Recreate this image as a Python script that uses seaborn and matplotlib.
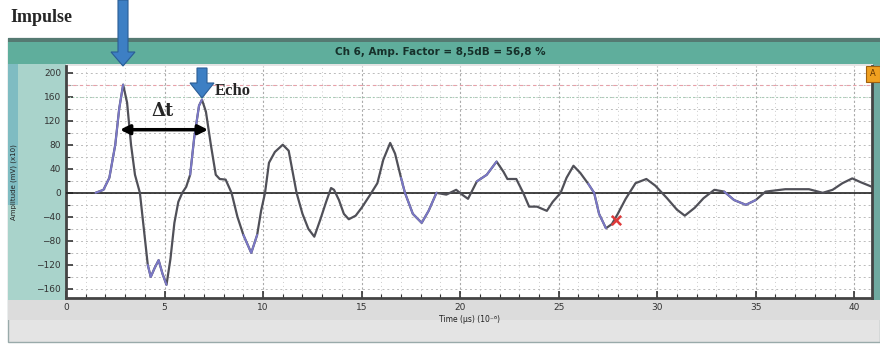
import numpy as np
import pandas as pd
import seaborn as sns
import matplotlib.pyplot as plt
from matplotlib.patches import Rectangle, FancyArrow
from matplotlib.ticker import MultipleLocator

# signal
time_us = [1.5, 1.9, 2.2, 2.5, 2.7, 2.9, 3.1, 3.3, 3.5, 3.75, 3.95, 4.15, 4.3, 4.5, 4.7, 4.9,
           5.1, 5.3, 5.5, 5.7, 5.9, 6.1, 6.3, 6.5, 6.75, 6.9, 7.1, 7.35, 7.6, 7.8, 8.1, 8.4,
           8.7, 9.0, 9.4, 9.7, 9.9, 10.1, 10.3, 10.6, 11.0, 11.3, 11.5, 11.7, 12.0, 12.3,
           12.6, 12.9, 13.2, 13.45, 13.6, 13.85, 14.1, 14.35, 14.7, 15.0, 15.4, 15.8, 16.1,
           16.45, 16.7, 17.0, 17.2, 17.6, 18.05, 18.4, 18.8, 19.3, 19.8, 20.1, 20.4, 20.85,
           21.35, 21.85, 22.2, 22.4, 22.85, 23.2, 23.5, 23.9, 24.4, 24.7, 25.1, 25.4, 25.75,
           26.1, 26.5, 26.8, 27.05, 27.4, 27.7, 28.0, 28.4, 28.9, 29.45, 29.9, 30.5, 31.0,
           31.4, 31.9, 32.35, 32.9, 33.4, 33.9, 34.5, 35.0, 35.5, 36.5, 37.7, 38.4, 38.9,
           39.4, 39.9, 40.3, 40.9]
amplitude = [0, 5, 25, 80, 140, 180, 150, 80, 30, 0, -60, -120, -140, -125, -112, -135,
             -153, -110, -50, -15, 0, 10, 30, 90, 145, 155, 135, 80, 30, 23, 22, 0,
             -40, -70, -100, -70, -30, 0, 50, 68, 80, 70, 35, 0, -35, -60,
             -73, -45, -15, 8, 5, -12, -35, -44, -38, -25, -5, 16, 55,
             83, 65, 25, 0, -35, -50, -30, 0, -3, 5, -3, -10, 19,
             30, 52, 35, 23, 23, 0, -23, -23, -30, -15, 0, 25, 45,
             33, 15, 0, -35, -59, -52, -35, -10, 16, 23, 12, -9, -28,
             -38, -25, -9, 5, 2, -12, -20, -12, 2, 6, 6, 0, 5,
             16, 24, 18, 10]
# stretches drawn in blue/purple in the original
blue_spans = [(1.5, 3.0), (4.0, 5.2), (6.2, 6.9), (9.0, 9.8), (17.0, 18.8), (20.8, 21.9),
              (26.5, 27.4), (33.4, 35.2)]
marker_t, marker_a = [27.9], [-45]
y_ticks = [200, 160, 120, 80, 40, 0, -40, -80, -120, -160]
x_ticks = [0, 5, 10, 15, 20, 25, 30, 35, 40]

title = "Ch 6, Amp. Factor = 8,5dB = 56,8 %"

sns.set_style("white")
W, H = 880, 344
fig = plt.figure(figsize=(W / 100, H / 100), dpi=100)
fig.patch.set_facecolor("white")


def box(x0, y0, x1, y1):
    # pixel box (top-left origin) -> figure fractions
    return x0 / W, 1 - y1 / H, (x1 - x0) / W, (y1 - y0) / H


def panel(x0, y0, x1, y1, z=-5, **kw):
    b = box(x0, y0, x1, y1)
    fig.add_artist(Rectangle(b[:2], b[2], b[3], transform=fig.transFigure, zorder=z, **kw))


# window frame pieces (behind the axes)
panel(8, 38, 880, 342, fc="#e4e4e4", ec="#9aa", lw=1)
panel(8, 38, 880, 64, fc="#5fae9c", ec="none")
panel(8, 38, 880, 42, fc="#557a72", ec="none")
panel(8, 64, 66, 300, fc="#a9d3cb", ec="none")
panel(8, 64, 18, 205, fc="#7fbcc2", ec="none")
panel(873, 64, 880, 300, fc="#6fa9a0", ec="none")
panel(8, 300, 880, 320, fc="#dcdcdc", ec="none")
fig.text(440 / W, 1 - 52 / H, title, ha="center", va="center", fontsize=7.5,
         fontweight="bold", color="#16302a")

ax = fig.add_axes(box(66, 66, 872, 298))
ax.set_facecolor("white")
df = pd.DataFrame({"t": time_us, "a": amplitude})
sns.lineplot(data=df, x="t", y="a", ax=ax, color="#505058", lw=1.6, zorder=4)
for lo, hi in blue_spans:
    part = df[(df.t >= lo) & (df.t <= hi)]
    sns.lineplot(data=part, x="t", y="a", ax=ax, color="#7b78c8", lw=1.4, zorder=5)
ax.scatter(marker_t, marker_a, marker="x", s=45, color="#e03a3a", lw=1.8, zorder=6)

ax.set_xlim(0, 40.9)
ax.set_ylim(-175, 211)
ax.set_xticks(x_ticks)
ax.set_yticks(y_ticks)
ax.xaxis.set_minor_locator(MultipleLocator(1))
ax.yaxis.set_minor_locator(MultipleLocator(20))
ax.tick_params(axis="both", which="major", direction="in", length=5, width=1.2,
               labelsize=6.5, colors="#333", left=True, bottom=True)
ax.tick_params(axis="both", which="minor", direction="in", length=3, width=0.8,
               colors="#333", left=True, bottom=True)
ax.grid(True, which="major", axis="x", color="#aaa", ls=(0, (2, 2)), lw=0.8)
ax.grid(True, which="minor", axis="x", color="#ccc", ls=(0, (1, 3)), lw=0.7)
ax.grid(True, which="both", axis="y", color="#bbb", ls=(0, (2, 3)), lw=0.7)
ax.axhline(0, color="#222", lw=1.2, zorder=3)
ax.axhline(180, color="#e8a0a8", ls=(0, (3, 3)), lw=0.8, zorder=2)
ax.axhline(160, color="#9ccfb0", ls=(0, (1, 2)), lw=0.8, zorder=2)
for side in ["left", "bottom", "right"]:
    ax.spines[side].set_color("#444")
    ax.spines[side].set_linewidth(2)
ax.spines["top"].set_visible(False)
ax.set_xlabel("Time (µs) (10⁻⁶)", fontsize=5.5, color="#222", labelpad=2)
ax.set_ylabel("Amplitude (mV) (x10)", fontsize=5, color="#222", labelpad=14)

# delta t double arrow
ax.annotate("", xy=(2.6, 105), xytext=(7.35, 105),
            arrowprops=dict(arrowstyle="<|-|>", color="black", lw=2.5, mutation_scale=14),
            zorder=7)
ax.text(4.9, 136, "Δt", fontsize=13, fontweight="bold", family="DejaVu Serif",
        ha="center", va="center", zorder=7)
ax.text(7.55, 170, "Echo", fontsize=12, fontweight="bold", family="Liberation Serif",
        ha="left", va="center", zorder=7)

# big blue arrows
fig.add_artist(FancyArrow(123 / W, 1.0, 0, -66 / H, width=10 / W, head_width=24 / W,
                          head_length=14 / H, length_includes_head=True,
                          transform=fig.transFigure, fc="#3d7fc4", ec="#2a5d95", lw=0.8,
                          zorder=10))
fig.add_artist(FancyArrow(202 / W, 1 - 68 / H, 0, -30 / H, width=10 / W, head_width=24 / W,
                          head_length=15 / H, length_includes_head=True,
                          transform=fig.transFigure, fc="#3d7fc4", ec="#2a5d95", lw=0.8,
                          zorder=10))
fig.text(10 / W, 1 - 18 / H, "Impulse", fontsize=13, fontweight="bold",
         family="Liberation Serif", ha="left", va="center")

# little orange widget top right
panel(866, 66, 880, 82, z=10, fc="#f0a020", ec="#a06010", lw=0.8)
fig.text(873 / W, 1 - 74 / H, "A", fontsize=6, ha="center", va="center", color="#603000",
         zorder=11)

fig.savefig("out.png", dpi=100)
